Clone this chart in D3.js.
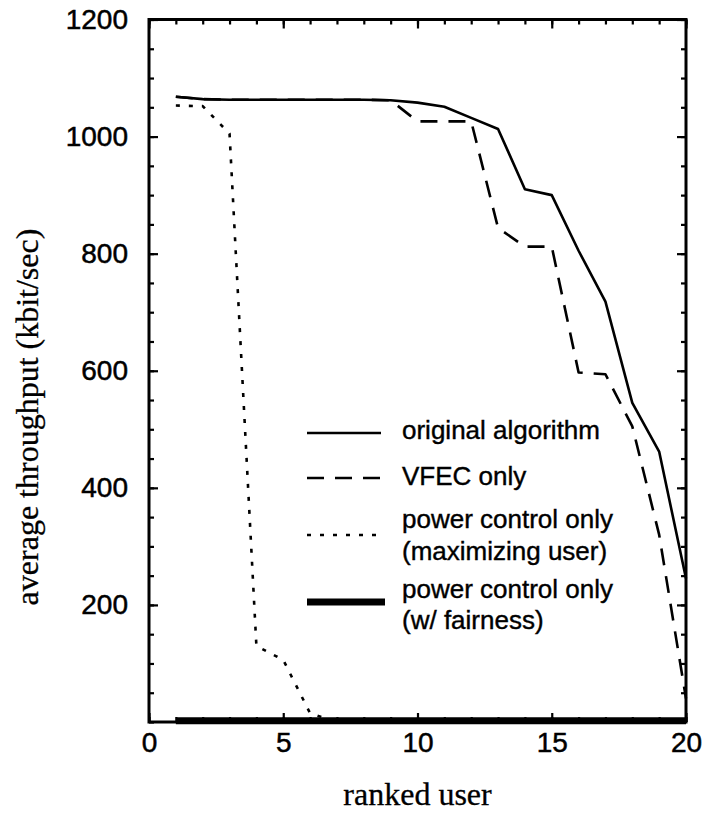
<!DOCTYPE html>
<html>
<head>
<meta charset="utf-8">
<script src="https://cdn.jsdelivr.net/npm/d3@7"></script>
<style>
  html, body { margin: 0; padding: 0; background: #fff; }
  svg { display: block; }
</style>
</head>
<body>
<svg id="chart" width="704" height="813"></svg>
<script>
// ---- data ----
const users = [1,2,3,4,5,6,7,8,9,10,11,12,13,14,15,16,17,18,19,20];
const originalAlgorithm = [1068,1064,1063,1063,1063,1063,1063,1063,1062,1058,1051,1032,1013,910,900,805,718,545,462,245];
const vfecOnly          = [1068,1064,1063,1063,1063,1063,1063,1063,1062,1026,1026,1026,844,812,812,597,594,505,320,40];
const pcMaximizing      = [1053,1052,1005,130,106,15,0,0,0,0,0,0,0,0,0,0,0,0,0,0];
const pcFairness        = [2,2,2,2,2,2,2,2,2,2,2,2,2,2,2,2,2,2,2,2];

const xTickLabels = [0,5,10,15,20];
const yTickLabels = [200,400,600,800,1000,1200];
const xMinorTicks = d3.range(0,21,1);
const yMinorTicks = d3.range(0,1201,50);

const legendLabels = [
  ["original algorithm"],
  ["VFEC only"],
  ["power control only","(maximizing user)"],
  ["power control only","(w/ fairness)"]
];
const xTitle = "ranked user";
const yTitle = "average throughput (kbit/sec)";

// ---- layout ----
const svg = d3.select("#chart");
const L = 149, R = 686, T = 19.5, B = 722;
const x = d3.scaleLinear().domain([0,20]).range([L,R]);
const y = d3.scaleLinear().domain([0,1200]).range([B,T]);

const sansFont = "'Liberation Sans', Arial, Helvetica, sans-serif";
const serifFont = "'Liberation Serif', 'Times New Roman', serif";

function styleAxis(g){ g.select(".domain").remove(); g.selectAll(".tick line").attr("stroke","#000").attr("stroke-width",2.2); }

// minor ticks (all four sides, inward)
svg.append("g").attr("transform",`translate(0,${B})`)
  .call(d3.axisBottom(x).tickValues(xMinorTicks).tickSize(-5).tickSizeOuter(0).tickFormat(""))
  .call(styleAxis);
svg.append("g").attr("transform",`translate(0,${T})`)
  .call(d3.axisTop(x).tickValues(xMinorTicks).tickSize(-5).tickSizeOuter(0).tickFormat(""))
  .call(styleAxis);
svg.append("g").attr("transform",`translate(${L},0)`)
  .call(d3.axisLeft(y).tickValues(yMinorTicks).tickSize(-5).tickSizeOuter(0).tickFormat(""))
  .call(styleAxis);
svg.append("g").attr("transform",`translate(${R},0)`)
  .call(d3.axisRight(y).tickValues(yMinorTicks).tickSize(-5).tickSizeOuter(0).tickFormat(""))
  .call(styleAxis);

// major ticks with labels
const xAxisG = svg.append("g").attr("transform",`translate(0,${B})`)
  .call(d3.axisBottom(x).tickValues(xTickLabels).tickSize(-9).tickSizeOuter(0).tickPadding(10).tickFormat(d3.format("d")))
  .call(styleAxis);
svg.append("g").attr("transform",`translate(0,${T})`)
  .call(d3.axisTop(x).tickValues(xTickLabels).tickSize(-9).tickSizeOuter(0).tickFormat(""))
  .call(styleAxis);
const yAxisG = svg.append("g").attr("transform",`translate(${L},0)`)
  .call(d3.axisLeft(y).tickValues(yTickLabels).tickSize(-9).tickSizeOuter(0).tickPadding(21).tickFormat(d3.format("d")))
  .call(styleAxis);
svg.append("g").attr("transform",`translate(${R},0)`)
  .call(d3.axisRight(y).tickValues(yTickLabels).tickSize(-9).tickSizeOuter(0).tickFormat(""))
  .call(styleAxis);

[xAxisG, yAxisG].forEach(g => g.selectAll("text")
  .attr("fill","#000").attr("stroke","#000").attr("stroke-width",0.5)
  .style("font-family",sansFont).style("font-size","28px"));
xAxisG.selectAll("text").attr("dy","0.71em");

// frame
svg.append("rect").attr("x",L).attr("y",T).attr("width",R-L).attr("height",B-T)
  .attr("fill","none").attr("stroke","#000").attr("stroke-width",3);

// series
const series = [
  {vals: originalAlgorithm, width: 2.6, dash: null},
  {vals: vfecOnly, width: 2.6, dash: "17,11"},
  {vals: pcMaximizing, width: 2.6, dash: "4,9"},
  {vals: pcFairness, width: 7, dash: null}
];
const line = d3.line().x((d,i)=>x(users[i])).y(d=>y(d));
series.forEach(s => {
  svg.append("path").datum(s.vals).attr("d", line)
    .attr("fill","none").attr("stroke","#000")
    .attr("stroke-width", s.width)
    .attr("stroke-dasharray", s.dash)
    .attr("stroke-linejoin","round");
});

// legend
const legendLineY = [433, 478, 535, 602];
const legendTextY = [[439],[485],[528,560],[598,629]];
const legendX1 = [307,307,307,307], legendX2 = [381,381,381,385];
series.forEach((s,i) => {
  svg.append("line").attr("x1",legendX1[i]).attr("x2",legendX2[i])
    .attr("y1",legendLineY[i]).attr("y2",legendLineY[i])
    .attr("stroke","#000").attr("stroke-width",s.width)
    .attr("stroke-dasharray", s.dash);
  legendLabels[i].forEach((t,j) => {
    svg.append("text").attr("x",402).attr("y",legendTextY[i][j])
      .style("font-family",sansFont).style("font-size","26px")
      .attr("fill","#000").attr("stroke","#000").attr("stroke-width",0.4)
      .text(t);
  });
});

// axis titles
svg.append("text").attr("x",(L+R)/2).attr("y",805).attr("text-anchor","middle")
  .style("font-family",serifFont).style("font-size","32px")
  .attr("fill","#000").attr("stroke","#000").attr("stroke-width",0.3)
  .text(xTitle);
svg.append("text").attr("transform","translate(38,417) rotate(-90)").attr("text-anchor","middle")
  .style("font-family",serifFont).style("font-size","32px")
  .attr("fill","#000").attr("stroke","#000").attr("stroke-width",0.3)
  .text(yTitle);
</script>
</body>
</html>
